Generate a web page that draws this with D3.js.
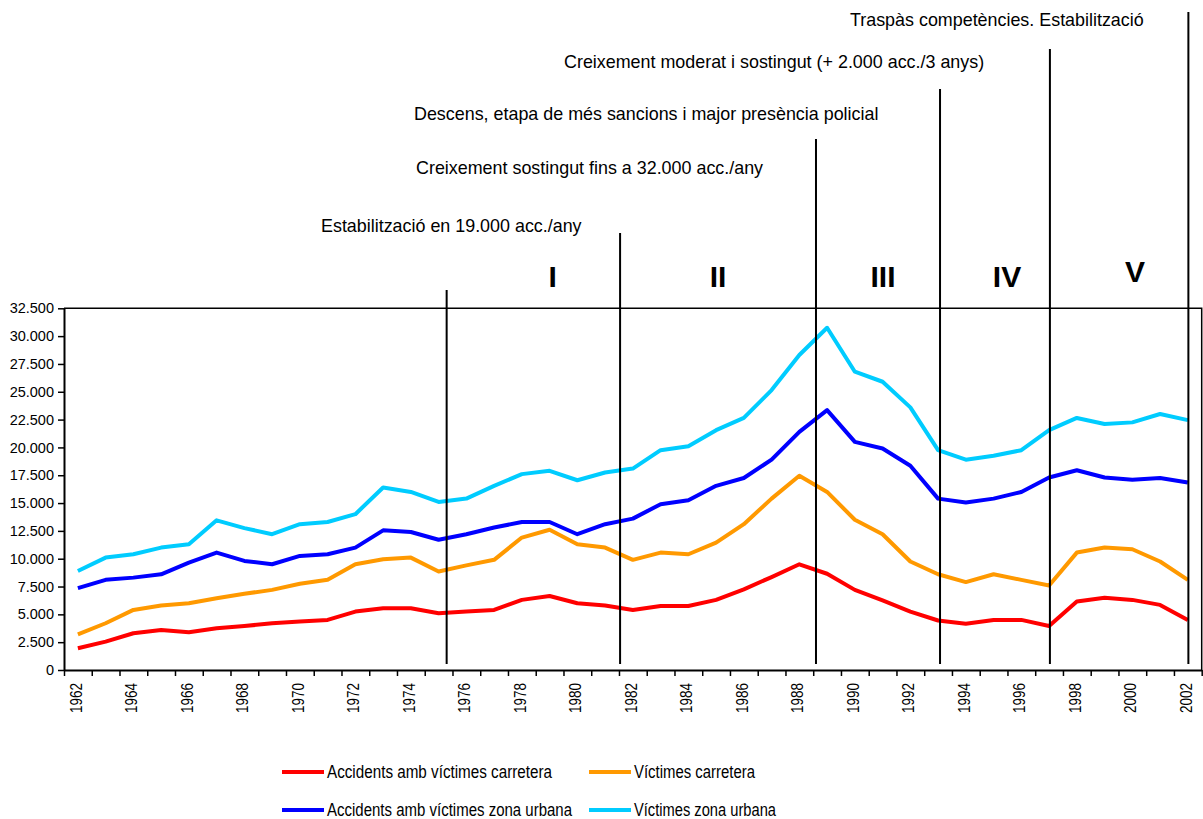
<!DOCTYPE html>
<html>
<head>
<meta charset="utf-8">
<script src="https://cdn.jsdelivr.net/npm/d3@7"></script>
<style>
  html, body { margin: 0; padding: 0; background: #fff; }
  svg { display: block; font-family: "Liberation Sans", Arial, sans-serif; }
</style>
</head>
<body>
<svg id="chart" width="1203" height="819"></svg>
<script>
// ---------- DATA ----------
const years = [1962,1963,1964,1965,1966,1967,1968,1969,1970,1971,1972,1973,1974,1975,1976,1977,1978,1979,1980,1981,
  1982,1983,1984,1985,1986,1987,1988,1989,1990,1991,1992,1993,1994,1995,1996,1997,1998,1999,2000,2001,2002];

const accidentsCarretera = [1950,2550,3300,3600,3400,3750,3950,4200,4350,4500,5250,5550,5550,5100,5250,5400,6300,6650,6000,5800,
  5400,5750,5750,6300,7250,8350,9500,8650,7200,6250,5250,4450,4150,4500,4500,3950,6150,6500,6300,5850,4500];

const victimesCarretera = [3200,4200,5400,5800,6000,6450,6850,7200,7750,8100,9500,9950,10100,8850,9400,9900,11900,12600,11300,11000,
  9900,10550,10400,11450,13100,15400,17450,16000,13500,12200,9750,8600,7900,8600,8100,7600,10550,11000,10850,9750,8100];

const accidentsUrbana = [7350,8100,8300,8600,9650,10550,9800,9500,10250,10400,11000,12550,12400,11700,12200,12800,13300,13300,12200,13100,
  13600,14900,15250,16550,17250,18900,21400,23350,20500,19900,18350,15400,15050,15400,16000,17300,17950,17300,17100,17250,16850];

const victimesUrbana = [8900,10100,10400,11000,11300,13450,12750,12200,13100,13300,14000,16400,16000,15100,15400,16550,17600,17900,17050,17750,
  18100,19750,20100,21550,22650,25150,28300,30750,26800,25900,23600,19750,18900,19250,19750,21550,22650,22100,22250,23000,22450];

const seriesNames = ["Accidents amb víctimes carretera","Víctimes carretera","Accidents amb víctimes zona urbana","Víctimes zona urbana"];
const yTicks = [0,2500,5000,7500,10000,12500,15000,17500,20000,22500,25000,27500,30000,32500];
const xLabelYears = [1962,1964,1966,1968,1970,1972,1974,1976,1978,1980,1982,1984,1986,1988,1990,1992,1994,1996,1998,2000,2002];

// period boundaries (in years) and their annotations
const periodBreaks = [1975.29, 1981.54, 1988.6, 1993.07, 1997.03, 2002.02];
const annotations = [
  "Estabilització en 19.000 acc./any",
  "Creixement sostingut fins a 32.000 acc./any",
  "Descens, etapa de més sancions i major presència policial",
  "Creixement moderat i sostingut (+ 2.000 acc./3 anys)",
  "Traspàs competències. Estabilització"
];
const periodLabels = ["I","II","III","IV","V"];

// ---------- LAYOUT ----------
const L = 64, R = 1201.7, T = 308.3, B = 670;
const colors = ["#FF0000","#FF9900","#0000FF","#00CCFF"];
const seriesData = [accidentsCarretera, victimesCarretera, accidentsUrbana, victimesUrbana];

const svg = d3.select("#chart");

const x = d3.scaleBand().domain(years).range([L, R]).padding(0);
const xLin = d3.scaleLinear().domain([years[0]-0.5, years[years.length-1]+0.5]).range([L, R]);
const y = d3.scaleLinear().domain([0, 32500]).range([B, T]);

const loc = d3.formatLocale({decimal: ",", thousands: ".", grouping: [3], currency: ["", ""]});
const fmt = loc.format(",");

// plot frame (top and right)
svg.append("path")
  .attr("d", `M${L},${T}H${R}V${B}`)
  .attr("fill", "none").attr("stroke", "#000").attr("stroke-width", 1.5);

// Y axis
const yAxis = svg.append("g")
  .attr("transform", `translate(${L},0)`)
  .call(d3.axisLeft(y).tickValues(yTicks).tickFormat(fmt).tickSize(6).tickPadding(4).tickSizeOuter(0));
yAxis.select(".domain").attr("stroke-width", 2);
yAxis.selectAll(".tick line").attr("stroke-width", 1.5);
yAxis.selectAll("text").attr("font-size", 14.5).attr("fill", "#000")
  .attr("font-family", "'Liberation Sans', Arial, sans-serif");

// X axis: tick marks at band edges
const edges = years.map(v => v - 0.5).concat([years[years.length-1] + 0.5]);
const xAxis = svg.append("g")
  .attr("transform", `translate(0,${B})`)
  .call(d3.axisBottom(xLin).tickValues(edges).tickFormat("").tickSize(6).tickSizeOuter(0));
xAxis.select(".domain").attr("stroke-width", 2);
xAxis.selectAll(".tick line").attr("stroke-width", 1.5);

// X labels (rotated, condensed)
svg.append("g").selectAll("text")
  .data(xLabelYears)
  .join("text")
  .attr("transform", d => `translate(${x(d) + x.bandwidth()/2},${B + 13}) rotate(-90)`)
  .attr("text-anchor", "end")
  .attr("dy", "0.24em")
  .attr("font-size", 17)
  .attr("textLength", 30)
  .attr("lengthAdjust", "spacingAndGlyphs")
  .attr("fill", "#000")
  .text(d => d);

// Series lines
const line = d3.line().x((d, i) => x(years[i]) + x.bandwidth()/2).y(d => y(d));
svg.append("g").selectAll("path")
  .data(seriesData)
  .join("path")
  .attr("d", d => line(d))
  .attr("fill", "none")
  .attr("stroke", (d, i) => colors[i])
  .attr("stroke-width", 4)
  .attr("stroke-linejoin", "round");

// Period boundary lines
const breakTops = [290, 233, 139, 89, 49, 12];
svg.append("g").selectAll("line")
  .data(periodBreaks)
  .join("line")
  .attr("x1", d => xLin(d)).attr("x2", d => xLin(d))
  .attr("y1", (d, i) => breakTops[i]).attr("y2", 664)
  .attr("stroke", "#000").attr("stroke-width", 2);

// Annotation texts
const annPos = [[321, 232], [416, 174], [414, 120], [564, 68], [850, 26]];
svg.append("g").selectAll("text")
  .data(annotations)
  .join("text")
  .attr("x", (d, i) => annPos[i][0])
  .attr("y", (d, i) => annPos[i][1])
  .attr("font-size", 17.9)
  .attr("fill", "#000")
  .text(d => d);

// Period labels
const perPos = [[552.7, 287], [718, 287], [883, 287], [1007, 287], [1135, 282]];
svg.append("g").selectAll("text")
  .data(periodLabels)
  .join("text")
  .attr("x", (d, i) => perPos[i][0])
  .attr("y", (d, i) => perPos[i][1])
  .attr("text-anchor", "middle")
  .attr("font-size", 30)
  .attr("font-weight", "bold")
  .attr("fill", "#000")
  .text(d => d);

// Legend
const legPos = [[282, 772], [589, 772], [282, 810], [589, 810]];
const legWidths = [225, 121, 245, 142];
const leg = svg.append("g").selectAll("g")
  .data(seriesNames)
  .join("g")
  .attr("transform", (d, i) => `translate(${legPos[i][0]},${legPos[i][1]})`);
leg.append("line")
  .attr("x1", 0).attr("x2", 42).attr("y1", 0).attr("y2", 0)
  .attr("stroke", (d, i) => colors[i]).attr("stroke-width", 4);
leg.append("text")
  .attr("x", 45).attr("y", 6)
  .attr("font-size", 17.5)
  .attr("fill", "#000")
  .attr("textLength", (d, i) => legWidths[i])
  .attr("lengthAdjust", "spacingAndGlyphs")
  .text(d => d);
</script>
</body>
</html>
